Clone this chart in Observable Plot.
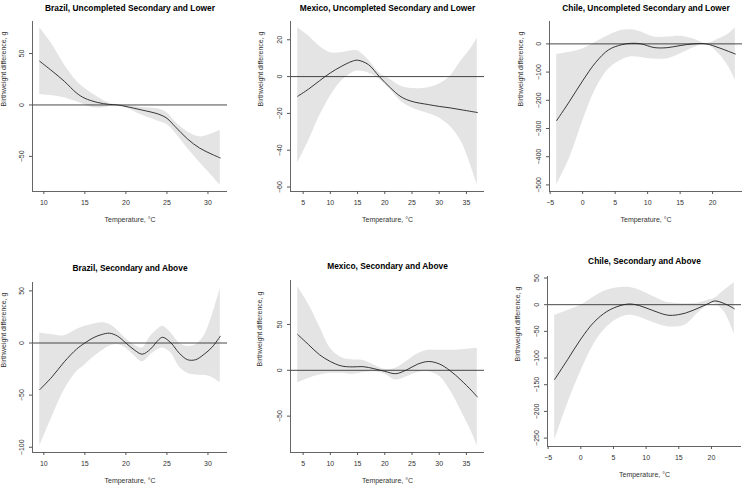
<!DOCTYPE html>
<html>
<head>
<meta charset="utf-8">
<script src="https://cdn.jsdelivr.net/npm/d3@7"></script>
<script src="https://cdn.jsdelivr.net/npm/@observablehq/plot@0.6"></script>
<style>
  body { margin: 0; background: #fff; }
  #chart { position: relative; width: 743px; height: 486px; overflow: hidden; }
  #chart > div { position: absolute; }
</style>
</head>
<body>
<div id="chart"></div>
<script>
// Brazil, uncompleted secondary and lower
const brLowT = [9.5, 11, 12.5, 14, 15, 16.5, 18, 19, 20, 22, 24, 25, 26, 27.5, 29, 30.5, 31.5];
const brLowEst = [42.5, 33, 23, 11.5, 6.5, 2.5, 0.5, 0, -1.5, -5, -9, -13, -21, -33, -42, -48, -51.5];
const brLowLo = [10, 9, 7, 3, 0, -3, -1.5, 0, -2.6, -10, -16, -19, -27, -42, -56, -69, -78];
const brLowHi = [75, 59, 39, 23, 16, 8, 1.6, 0, -0.5, -2.5, -4, -7.5, -16, -26, -31, -28, -24.5];

// Mexico, uncompleted secondary and lower
const mxLowT = [4, 6, 8, 10, 12, 14, 15, 17, 19, 21, 23, 25, 28, 30, 32, 34, 36, 37];
const mxLowEst = [-10.7, -6.8, -2.3, 2, 5.5, 8.3, 8.9, 6.5, 0, -6, -11, -13.5, -15.2, -16.2, -17, -18, -19, -19.5];
const mxLowLo = [-47, -35, -21.6, -10.7, -2.5, 2, 3, 2, -1.5, -7, -13.5, -17, -20, -22.5, -27, -35, -50, -59];
const mxLowHi = [26.5, 22, 16.5, 13, 13, 14, 14, 9, 2, -1.6, -5.3, -6.5, -6, -4, 0, 8.4, 16, 21];

// Chile, uncompleted secondary and lower
const clLowT = [-4, -2, 0, 2, 4, 6, 7.5, 9, 11, 13, 15, 17, 19, 21, 22.5, 23.5];
const clLowEst = [-272, -203, -131, -66, -21, -3, 2, 0, -13, -13.5, -6, 0, 0, -14, -27, -36];
const clLowLo = [-501, -405, -274, -161, -89, -57, -46, -48, -54, -53, -36, -15, -1, -36, -83, -129];
const clLowHi = [-38, -30, -18, 6, 30, 48, 50, 42, 24, 24, 27, 18, 1, 18, 36, 57];

// Brazil, secondary and above
const brHighT = [9.5, 11, 12.5, 14, 15, 16, 17, 18, 19, 20, 21, 22, 23, 24, 24.5, 25.5, 26.5, 27.5, 28.5, 29.5, 30.5, 31.5];
const brHighEst = [-44.8, -32.5, -18, -5.8, 0, 4.9, 8, 9.4, 6.5, 0, -6.5, -10.7, -5.8, 3.2, 5.5, 0, -9.7, -16, -16, -11, -4, 6.5];
const brHighLo = [-99, -71, -45, -27.6, -21, -14, -8, -3, -1.5, -5, -12, -17.9, -11.4, -6, -4.9, -9.7, -22.7, -29, -30.8, -31, -33, -38];
const brHighHi = [9.7, 8, 7, 13, 16, 18, 19.5, 18, 12, 4, -1.6, -4.9, 6.5, 14, 16, 9.7, 0, -3.2, -1.6, 6.5, 26, 52];

// Mexico, secondary and above
const mxHighT = [4, 6, 8, 10, 12, 14, 16, 18, 20, 22, 24, 26, 28, 30, 32, 34, 36, 37];
const mxHighEst = [39, 28, 17, 9.6, 4.8, 3.7, 4, 1.8, -1.1, -3.7, 0.4, 6.6, 9.6, 7, -0.4, -10.7, -22.5, -29];
const mxHighLo = [-13.7, -8.9, -5.2, -3.3, -3.3, -4.4, -2.6, -1.5, -4, -10.7, -7, -2.6, -1.5, -6.3, -21.8, -44, -68, -82.7];
const mxHighHi = [91, 72, 48, 24, 14, 11.4, 10.7, 5.9, 1.1, 2.2, 9.6, 17.7, 21.8, 21.8, 21.8, 22.5, 23.5, 24];

// Chile, secondary and above
const clHighT = [-4, -2, 0, 2, 4, 6, 7.5, 9, 11, 13, 14, 16, 18, 19.5, 20.5, 22, 23.5];
const clHighEst = [-140, -102.5, -64.5, -33, -12.7, -1.9, 1.3, -1.9, -10.8, -19, -20, -15.8, -6.3, 1.9, 7, 1.9, -7.6];
const clHighLo = [-254, -185, -125, -74, -42, -24.7, -20, -23.4, -33, -41, -42, -38, -15, -1.3, 1.9, -14, -55];
const clHighHi = [-20, -10.8, -1.3, 14.6, 27, 32, 32, 27, 15.8, 5, 3.2, 1.9, 3.2, 8.2, 12, 27, 41];

// tick labels
const xTicksBr = [10, 15, 20, 25, 30];
const xTicksMx = [5, 10, 15, 20, 25, 30, 35];
const xTicksCl = [-5, 0, 5, 10, 15, 20];
const yTicksBrLow = [-50, 0, 50];
const yTicksMxLow = [-60, -40, -20, 0, 20];
const yTicksClLow = [-500, -400, -300, -200, -100, 0];
const yTicksBrHigh = [-100, -50, 0, 50];
const yTicksMxHigh = [-50, 0, 50];
const yTicksClHigh = [-250, -200, -150, -100, -50, 0, 50];

const titles = [
  "Brazil, Uncompleted Secondary and Lower",
  "Mexico, Uncompleted Secondary and Lower",
  "Chile, Uncompleted Secondary and Lower",
  "Brazil, Secondary and Above",
  "Mexico, Secondary and Above",
  "Chile, Secondary and Above",
];
const xLabel = "Temperature, °C";
const yLabel = "Birthweight difference, g";

const panels = [
  { t: brLowT, est: brLowEst, lo: brLowLo, hi: brLowHi, xTicks: xTicksBr, yTicks: yTicksBrLow,
    box: [0, 0, 248, 243], m: [21, 21, 52, 32], titleDy: -16.5, yDx: -29 },
  { t: mxLowT, est: mxLowEst, lo: mxLowLo, hi: mxLowHi, xTicks: xTicksMx, yTicks: yTicksMxLow,
    box: [248, 0, 247, 243], m: [21, 11, 52, 42], titleDy: -16.5, yDx: -30 },
  { t: clLowT, est: clLowEst, lo: clLowLo, hi: clLowHi, xTicks: xTicksCl, yTicks: yTicksClLow,
    box: [495, 0, 248, 243], m: [21, 1, 52, 54], titleDy: -16.5, yDx: -29 },
  { t: brHighT, est: brHighEst, lo: brHighLo, hi: brHighHi, xTicks: xTicksBr, yTicks: yTicksBrHigh,
    box: [0, 243, 248, 243], m: [39, 21, 34, 32], titleDy: -17, yDx: -29 },
  { t: mxHighT, est: mxHighEst, lo: mxHighLo, hi: mxHighHi, xTicks: xTicksMx, yTicks: yTicksMxHigh,
    box: [248, 243, 247, 243], m: [37, 11, 34, 42], titleDy: -17, yDx: -31 },
  { t: clHighT, est: clHighEst, lo: clHighLo, hi: clHighHi, xTicks: xTicksCl, yTicks: yTicksClHigh,
    box: [495, 243, 248, 243], m: [33, 2, 40, 52], titleDy: -18, yDx: -30 },
];

// R-style 4% padding of the data range
const pad = ([a, b]) => [a - (b - a) * 0.04, b + (b - a) * 0.04];

const chart = document.getElementById("chart");

panels.forEach((p, k) => {
  const rows = p.t.map((t, i) => ({ t, est: p.est[i], lo: p.lo[i], hi: p.hi[i] }));
  const xDom = pad(d3.extent(p.t));
  const yDom = pad(d3.extent([...p.lo, ...p.hi]));
  const [left, top, width, height] = p.box;
  const [mT, mR, mB, mL] = p.m;

  const svg = Plot.plot({
    width, height,
    marginTop: mT, marginRight: mR, marginBottom: mB, marginLeft: mL,
    style: { fontFamily: "'Liberation Sans', Arial, sans-serif", fontSize: "7px", color: "#333", background: "white", overflow: "visible" },
    x: { domain: xDom },
    y: { domain: yDom },
    marks: [
      Plot.areaY(rows, { x: "t", y1: "lo", y2: "hi", fill: "#e4e4e4", curve: "catmull-rom" }),
      Plot.ruleY([0], { stroke: "#333", strokeWidth: 0.9 }),
      Plot.lineY(rows, { x: "t", y: "est", stroke: "#222", strokeWidth: 0.9, curve: "catmull-rom" }),
      //axis lines drawn across the whole range like the original
      Plot.ruleX([xDom[0]], { stroke: "#555", strokeWidth: 0.9 }),
      Plot.ruleY([yDom[0]], { stroke: "#555", strokeWidth: 0.9 }),
      Plot.axisX({ ticks: p.xTicks, tickSize: 3, label: null, stroke: "#555" }),
      Plot.axisY({ ticks: p.yTicks, tickSize: 3, tickRotate: -90, label: null, stroke: "#555" }),
      Plot.text([titles[k]], { text: (d) => d, frameAnchor: "top", dy: p.titleDy, fontWeight: "bold", fontSize: 8.4, fill: "#000" }),
      Plot.text([xLabel], { text: (d) => d, frameAnchor: "bottom", dy: 30, fill: "#333" }),
      Plot.text([yLabel], { text: (d) => d, frameAnchor: "left", dx: p.yDx, rotate: -90, fill: "#333" }),
    ],
  });

  const holder = document.createElement("div");
  holder.style.left = left + "px";
  holder.style.top = top + "px";
  holder.appendChild(svg);
  chart.appendChild(holder);
});
</script>
</body>
</html>
